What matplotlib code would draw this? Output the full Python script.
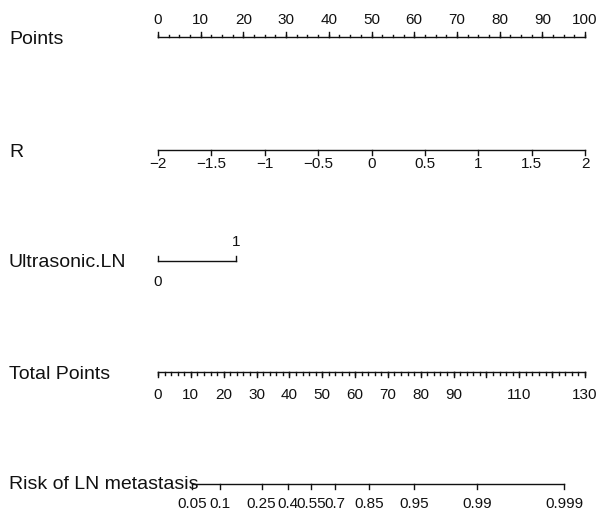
import numpy as np
import matplotlib
matplotlib.use("Agg")
import matplotlib.pyplot as plt

plt.rcParams['font.family'] = ['Liberation Sans', 'DejaVu Sans']

# nomogram content
row_labels = ['Points', 'R', 'Ultrasonic.LN', 'Total Points', 'Risk of LN metastasis']

points_major = np.arange(0, 101, 10)
points_minor = np.arange(0, 100.1, 2.5)

r_ticks = [-2, -1.5, -1, -0.5, 0, 0.5, 1, 1.5, 2]
r_min, r_max = -2, 2

us_levels = ['0', '1']
us_points = [0, 18.3]

total_max = 130
total_major = np.arange(0, 131, 10)
total_minor = np.arange(0, 131, 2)
total_labels = [0, 10, 20, 30, 40, 50, 60, 70, 80, 90, 110, 130]

risk_ticks = [0.05, 0.1, 0.25, 0.4, 0.55, 0.7, 0.85, 0.95, 0.99, 0.999]
risk_tick_labels = ['0.05', '0.1', '0.25', '0.4', '0.55', '0.7', '0.85', '0.95', '0.99', '0.999']
lp_zero_points = 44.2      # total points where the linear predictor is 0
points_per_logit = 11.51

# layout (pixel rows, y grows downwards)
W, H = 599, 517
x0_px, x100_px = 158, 585
line_y = [37, 150, 261, 372, 484]
label_base = [44, 157, 267, 379, 489]
lw = 1.0
tick_fs = 11
label_fs = 14

px_per_pt = (x100_px - x0_px) / 100.0
fig = plt.figure(figsize=(W / 100, H / 100), dpi=100)
ax = fig.add_axes([0, 0, 1, 1])
ax.set_xlim(-x0_px / px_per_pt, (W - x0_px) / px_per_pt)
ax.set_ylim(H, 0)
ax.axis('off')


def ticks(xs, y, length, **kw):
    for x in xs:
        ax.plot([x, x], [y, y + length], color='#111111', lw=lw, **kw)


def tlabel(x, y, s):
    ax.text(x, y, s, ha='center', va='baseline', fontsize=tick_fs, color='#111111')


# row labels
for lab, yb in zip(row_labels, label_base):
    ax.text(9 / W, yb, lab, transform=ax.get_yaxis_transform(), ha='left',
            va='baseline', fontsize=label_fs, color='#111111')

# Points
y = line_y[0]
ax.plot([0, 100], [y, y], color='#111111', lw=lw)
ticks(points_minor, y, -2.5)
ticks(points_major, y, -5)
for v in points_major:
    tlabel(v, 24, f'{v:g}')

# R
y = line_y[1]
r_pts = [(r - r_min) / (r_max - r_min) * 100 for r in r_ticks]
ax.plot([r_pts[0], r_pts[-1]], [y, y], color='#111111', lw=lw)
ticks(r_pts, y, 5)
for v, p in zip(r_ticks, r_pts):
    tlabel(p, 168, f'{v:g}'.replace('-', '\u2212'))

# Ultrasonic.LN
y = line_y[2]
ax.plot(us_points, [y, y], color='#111111', lw=lw)
ticks(us_points, y, -5)
tlabel(us_points[0], 286.5, us_levels[0])
tlabel(us_points[1], 246.5, us_levels[1])

# Total Points
y = line_y[3]
scale = 100.0 / total_max
ax.plot([0, total_max * scale], [y, y], color='#111111', lw=lw)
ticks(total_minor * scale, y, 3)
ticks(total_major * scale, y, 5)
for v in total_labels:
    tlabel(v * scale, 399, f'{v:g}')

# Risk
y = line_y[4]
risk = np.array(risk_ticks)
risk_tp = lp_zero_points + points_per_logit * np.log(risk / (1 - risk))
risk_x = risk_tp * scale
ax.plot([risk_x[0], risk_x[-1]], [y, y], color='#111111', lw=lw)
ticks(risk_x, y, 5)
for p, s in zip(risk_x, risk_tick_labels):
    tlabel(p, 508, s)

fig.savefig('out.png', dpi=100, facecolor='white')
